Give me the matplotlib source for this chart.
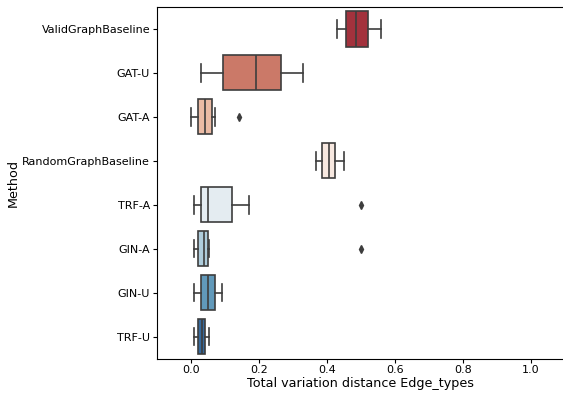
import numpy as np
import seaborn as sns
import matplotlib
matplotlib.use("Agg")
import matplotlib.pyplot as plt

methods = ["ValidGraphBaseline", "GAT-U", "GAT-A", "RandomGraphBaseline",
           "TRF-A", "GIN-A", "GIN-U", "TRF-U"]
whislo = [0.429, 0.030, 0.000, 0.369, 0.010, 0.010, 0.010, 0.010]
q1     = [0.457, 0.095, 0.021, 0.387, 0.030, 0.022, 0.030, 0.021]
med    = [0.485, 0.191, 0.040, 0.406, 0.051, 0.037, 0.051, 0.032]
q3     = [0.522, 0.265, 0.061, 0.425, 0.121, 0.049, 0.070, 0.041]
whishi = [0.560, 0.330, 0.071, 0.450, 0.171, 0.052, 0.090, 0.052]
fliers = [[], [], [0.140], [], [0.500], [0.500], [], []]

stats = [dict(label=m, whislo=a, q1=b, med=c, q3=d, whishi=e, fliers=f)
         for m, a, b, c, d, e, f in zip(methods, whislo, q1, med, q3, whishi, fliers)]

pal = [sns.desaturate(c, 0.75) for c in sns.color_palette("RdBu", len(methods))]
gray = "#3d3d3d"

fig = plt.figure(figsize=(5.63, 3.96), dpi=100)
ax = fig.add_axes([157 / 563, 1 - 358.5 / 396, (564.7 - 157) / 563, (358.5 - 7) / 396])
pos = np.arange(len(methods))
lw = 1.2
bp = ax.bxp(stats, positions=pos, vert=False, widths=0.8, patch_artist=True,
            boxprops=dict(edgecolor=gray, linewidth=lw),
            medianprops=dict(color=gray, linewidth=lw),
            whiskerprops=dict(color=gray, linewidth=lw),
            capprops=dict(color=gray, linewidth=lw),
            flierprops=dict(marker="d", markerfacecolor=gray, markeredgecolor=gray,
                            markersize=4))
for patch, c in zip(bp["boxes"], pal):
    patch.set_facecolor(c)

ax.set_ylim(len(methods) - 0.5, -0.5)
ax.set_yticks(pos)
ax.set_yticklabels(methods)
ax.set_xlim(-0.1, 1.1)
ax.set_xticks([0.0, 0.2, 0.4, 0.6, 0.8, 1.0])
ax.set_xlabel("Total variation distance Edge_types", fontsize=9.2, labelpad=1)
ax.set_ylabel("Method", fontsize=9.2, labelpad=2)
ax.tick_params(labelsize=8, length=3, pad=2)
fig.savefig("out.png", dpi=100)
